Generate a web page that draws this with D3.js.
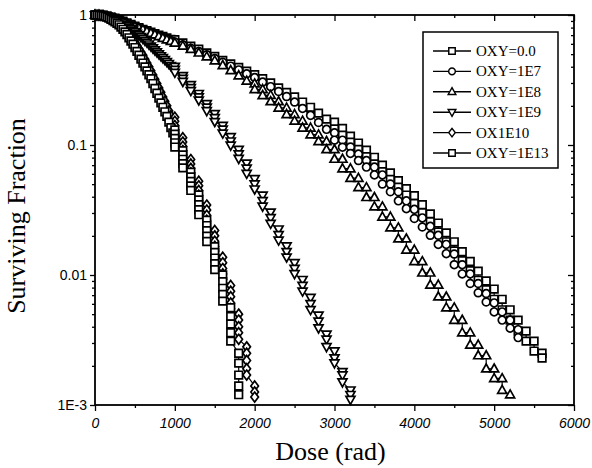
<!DOCTYPE html>
<html>
<head>
<meta charset="utf-8">
<script src="https://cdn.jsdelivr.net/npm/d3@7"></script>
<style>
  body { margin: 0; background: #fff; }
</style>
</head>
<body>
<script>
// dose ticks and survival ticks
var doseTicks = [0, 1000, 2000, 3000, 4000, 5000, 6000];
var doseMinor = [500, 1500, 2500, 3500, 4500, 5500];
var fracTicks = [1, 0.1, 0.01, 0.001];
var fracLabels = ["1", "0.1", "0.01", "1E-3"];

var seriesNames = ["OXY=0.0", "OXY=1E7", "OXY=1E8", "OXY=1E9", "OX1E10", "OXY=1E13"];
var seriesSymbols = ["square", "circle", "triangleUp", "triangleDown", "diamond", "square"];

// [dose (rad), surviving fraction]
var oxy0 = [
  [0,1],[50,0.998],[100,0.991],[150,0.979],[200,0.964],[250,0.944],[300,0.92],[350,0.895],[400,0.871],[450,0.845],
  [500,0.82],[550,0.798],[600,0.776],[650,0.757],[700,0.738],[750,0.719],[800,0.701],[850,0.684],[900,0.667],[950,0.65],
  [1000,0.645],[1100,0.61],[1200,0.575],[1300,0.545],[1400,0.51],[1500,0.48],[1600,0.447],[1700,0.42],[1800,0.395],[1900,0.37],
  [2000,0.347],[2100,0.324],[2200,0.3],[2300,0.275],[2400,0.254],[2500,0.234],[2600,0.214],[2700,0.195],[2800,0.176],[2900,0.158],
  [3000,0.15],[3000,0.133],[3100,0.134],[3100,0.119],[3200,0.117],[3200,0.105],[3300,0.1035],[3300,0.0923],[3400,0.0912],[3400,0.0813],
  [3500,0.0804],[3500,0.0716],[3600,0.07],[3600,0.0624],[3700,0.061],[3700,0.0543],[3800,0.0531],[3800,0.0473],[3900,0.0462],[3900,0.0412],
  [4000,0.0407],[4000,0.0355],[4100,0.0347],[4100,0.0302],[4200,0.0295],[4200,0.0257],[4300,0.0251],[4300,0.0214],[4400,0.0211],[4400,0.018],
  [4500,0.018],[4500,0.0153],[4600,0.0151],[4600,0.0129],[4700,0.0127],[4700,0.0108],[4800,0.0107],[4800,0.0091],[4900,0.009],[4900,0.0077],
  [5000,0.0078],[5000,0.0065],[5100,0.0065],[5100,0.0054],[5200,0.0054],[5200,0.0045],[5300,0.0045],[5300,0.0037],[5400,0.0037],[5400,0.0031],
  [5500,0.0031],[5500,0.0026],[5600,0.0025],[5600,0.0023]
];

var oxy1e7 = [
  [0,1],[50,0.998],[100,0.991],[150,0.979],[200,0.962],[250,0.94],[300,0.916],[350,0.891],[400,0.865],[450,0.839],
  [500,0.815],[550,0.792],[600,0.771],[650,0.75],[700,0.73],[750,0.71],[800,0.69],[850,0.672],[900,0.653],[950,0.635],
  [1000,0.62],[1100,0.59],[1200,0.555],[1300,0.525],[1400,0.495],[1500,0.463],[1600,0.433],[1700,0.404],[1800,0.378],[1900,0.353],
  [2000,0.33],[2100,0.305],[2200,0.281],[2300,0.258],[2400,0.236],[2500,0.214],[2600,0.191],[2700,0.169],[2800,0.149],[2900,0.132],
  [3000,0.124],[3000,0.109],[3100,0.109],[3100,0.0962],[3200,0.0966],[3200,0.0861],[3300,0.0851],[3300,0.0759],[3400,0.0759],[3400,0.0676],
  [3500,0.0676],[3500,0.0589],[3600,0.0589],[3600,0.0501],[3700,0.0501],[3700,0.0437],[3800,0.0437],[3800,0.0372],[3900,0.0372],[3900,0.0324],
  [4000,0.032],[4000,0.0272],[4100,0.0275],[4100,0.0234],[4200,0.0237],[4200,0.0202],[4300,0.0202],[4300,0.0172],[4400,0.0172],[4400,0.0146],
  [4500,0.0145],[4500,0.012],[4600,0.012],[4600,0.0102],[4700,0.0102],[4700,0.0086],[4800,0.0086],[4800,0.0073],[4900,0.0072],[4900,0.0062],
  [5000,0.0061],[5000,0.0052],[5100,0.0052],[5100,0.0045],[5200,0.0045],[5200,0.0039],[5300,0.0038],[5300,0.0033]
];

var oxy1e8 = [
  [0,1],[50,0.998],[100,0.991],[150,0.979],[200,0.962],[250,0.94],[300,0.916],[350,0.891],[400,0.865],[450,0.839],
  [500,0.815],[550,0.792],[600,0.771],[650,0.748],[700,0.726],[750,0.705],[800,0.684],[850,0.664],[900,0.646],[950,0.628],
  [1000,0.61],[1100,0.578],[1200,0.545],[1300,0.512],[1400,0.478],[1500,0.445],[1600,0.41],[1700,0.375],[1800,0.342],[1900,0.311],
  [2000,0.296],[2000,0.268],[2100,0.268],[2100,0.241],[2200,0.2415],[2200,0.216],[2300,0.216],[2300,0.193],[2400,0.193],[2400,0.172],
  [2500,0.172],[2500,0.153],[2600,0.153],[2600,0.1355],[2700,0.1355],[2700,0.12],[2800,0.12],[2800,0.1067],[2900,0.1067],[2900,0.0923],
  [3000,0.0923],[3000,0.078],[3100,0.078],[3100,0.0658],[3200,0.0658],[3200,0.0556],[3300,0.0556],[3300,0.0471],[3400,0.0471],[3400,0.0396],
  [3500,0.0396],[3500,0.0335],[3600,0.0335],[3600,0.028],[3700,0.028],[3700,0.0231],[3800,0.0231],[3800,0.019],[3900,0.019],[3900,0.0156],
  [4000,0.0156],[4000,0.0127],[4100,0.0127],[4100,0.0104],[4200,0.0104],[4200,0.0084],[4300,0.0084],[4300,0.0068],[4400,0.0068],[4400,0.0056],
  [4500,0.0056],[4500,0.0045],[4600,0.0045],[4600,0.0036],[4700,0.0036],[4700,0.0029],[4800,0.0029],[4800,0.0024],[4900,0.0024],[4900,0.0019],
  [5000,0.0019],[5000,0.0016],[5100,0.0016],[5100,0.0013],[5200,0.0012]
];

var oxy1e9 = [
  [0,1],[25,0.999],[50,0.998],[75,0.995],[100,0.991],[125,0.984],[150,0.977],[175,0.968],[200,0.959],[225,0.946],
  [250,0.933],[275,0.917],[300,0.902],[325,0.883],[350,0.865],[375,0.845],[400,0.826],[425,0.804],[450,0.783],[475,0.762],
  [500,0.741],[525,0.72],[550,0.7],[575,0.679],[600,0.658],[625,0.637],[650,0.617],[675,0.596],[700,0.575],[725,0.556],
  [750,0.537],[775,0.519],[800,0.501],[825,0.484],[850,0.468],[875,0.452],[900,0.437],[925,0.422],[950,0.407],[975,0.395],
  [1000,0.401],[1000,0.38],[1000,0.361],[1100,0.341],[1100,0.324],[1100,0.307],[1200,0.29],[1200,0.275],[1200,0.261],
  [1300,0.248],[1300,0.234],[1300,0.221],[1400,0.207],[1400,0.195],[1400,0.183],[1500,0.174],[1500,0.162],[1500,0.151],
  [1600,0.141],[1600,0.132],[1600,0.123],[1700,0.1156],[1700,0.107],[1700,0.0993],[1800,0.0923],[1800,0.0851],[1800,0.0785],
  [1900,0.0724],[1900,0.0661],[1900,0.0603],[2000,0.055],[2000,0.0501],[2000,0.0457],[2100,0.041],[2100,0.0372],[2100,0.0337],
  [2200,0.0304],[2200,0.0275],[2200,0.0249],[2300,0.0225],[2300,0.0204],[2300,0.0185],[2400,0.0167],[2400,0.0151],[2400,0.0137],
  [2500,0.0124],[2500,0.0112],[2500,0.0102],[2600,0.0092],[2600,0.0083],[2600,0.0075],[2700,0.0067],[2700,0.006],[2700,0.0054],
  [2800,0.0049],[2800,0.0044],[2800,0.0039],[2900,0.0035],[2900,0.0032],[2900,0.0028],[3000,0.0026],[3000,0.0023],[3000,0.0021],
  [3100,0.0018],[3100,0.0017],[3100,0.0015],[3200,0.0013],[3200,0.0012],[3200,0.0011]
];

var ox1e10 = [
  [0,1],[25,0.999],[50,0.998],[75,0.994],[100,0.989],[125,0.979],[150,0.968],[175,0.954],[200,0.94],[225,0.922],
  [250,0.904],[275,0.883],[300,0.861],[325,0.833],[350,0.804],[375,0.772],[400,0.741],[425,0.708],[450,0.676],[475,0.646],
  [500,0.617],[525,0.583],[550,0.55],[575,0.519],[600,0.49],[625,0.457],[650,0.427],[675,0.399],[700,0.372],[725,0.345],
  [750,0.32],[775,0.297],[800,0.275],[825,0.254],[850,0.234],[875,0.217],[900,0.2],[925,0.183],[950,0.168],[975,0.155],
  [1000,0.1637],[1000,0.152],[1000,0.141],[1000,0.131],[1000,0.122],
  [1100,0.1138],[1100,0.1054],[1100,0.0977],[1100,0.0906],[1100,0.0839],
  [1200,0.0773],[1200,0.0715],[1200,0.0661],[1200,0.0611],[1200,0.0565],
  [1300,0.0527],[1300,0.0485],[1300,0.0447],[1300,0.0411],[1300,0.0378],
  [1400,0.0345],[1400,0.0316],[1400,0.0288],[1400,0.0264],[1400,0.0241],
  [1500,0.022],[1500,0.02],[1500,0.0182],[1500,0.0166],[1500,0.0151],
  [1600,0.0137],[1600,0.0124],[1600,0.0112],[1600,0.0102],[1600,0.0092],
  [1700,0.0083],[1700,0.0075],[1700,0.0068],[1700,0.0061],[1700,0.0055],
  [1800,0.005],[1800,0.0045],[1800,0.004],[1800,0.0036],[1800,0.0032],
  [1900,0.0028],[1900,0.0025],[1900,0.0022],[1900,0.0019],[1900,0.0017],
  [2000,0.0014],[2000,0.00126],[2000,0.00115]
];

var oxy1e13 = [
  [0,1],[25,0.999],[50,0.998],[75,0.994],[100,0.989],[125,0.977],[150,0.964],[175,0.946],[200,0.927],[225,0.907],
  [250,0.887],[275,0.864],[300,0.841],[325,0.808],[350,0.776],[375,0.741],[400,0.708],[425,0.668],[450,0.631],[475,0.596],
  [500,0.562],[525,0.525],[550,0.49],[575,0.457],[600,0.427],[625,0.399],[650,0.372],[675,0.347],[700,0.324],[725,0.297],
  [750,0.272],[775,0.25],[800,0.229],[825,0.211],[850,0.195],[875,0.18],[900,0.166],[925,0.15],[950,0.136],[975,0.124],
  [1000,0.1306],[1000,0.121],[1000,0.1122],[1000,0.104],[1000,0.0964],
  [1100,0.0904],[1100,0.0838],[1100,0.0776],[1100,0.0719],[1100,0.0667],
  [1200,0.0617],[1200,0.0569],[1200,0.0525],[1200,0.0484],[1200,0.0447],
  [1300,0.0413],[1300,0.0378],[1300,0.0347],[1300,0.0318],[1300,0.0291],
  [1400,0.0264],[1400,0.024],[1400,0.0219],[1400,0.0199],[1400,0.0181],
  [1500,0.0165],[1500,0.0149],[1500,0.0135],[1500,0.0122],[1500,0.011],
  [1600,0.01],[1600,0.0089],[1600,0.0079],[1600,0.0071],[1600,0.0063],
  [1700,0.0056],[1700,0.0048],[1700,0.0042],[1700,0.0036],[1700,0.0031],
  [1800,0.0025],[1800,0.0021],[1800,0.0017],[1800,0.0014],[1800,0.0012]
];

var allSeries = [oxy0, oxy1e7, oxy1e8, oxy1e9, ox1e10, oxy1e13];

var svgW = 592, svgH = 468;
var plotL = 95, plotR = 574, plotT = 15, plotB = 405;

var svg = d3.select("body").append("svg").attr("width", svgW).attr("height", svgH);

var x = d3.scaleLinear().domain([0, 6000]).range([plotL, plotR]);
var y = d3.scaleLog().domain([0.001, 1]).range([plotB, plotT]);

var yMinor = [];
[0.001, 0.01, 0.1].forEach(function(dec){
  for (var k = 2; k <= 9; k++) yMinor.push(dec * k);
});

// marker shapes
function symbolPath(kind){
  if (kind == "square") return "M-3.8,-3.8H3.8V3.8H-3.8Z";
  if (kind == "circle") return "M3.9,0A3.9,3.9 0 1,1 -3.9,0A3.9,3.9 0 1,1 3.9,0Z";
  if (kind == "triangleUp") return "M0,-4.8L4.5,3.2L-4.5,3.2Z";
  if (kind == "triangleDown") return "M0,4.8L4.5,-3.2L-4.5,-3.2Z";
  if (kind == "diamond") return "M0,-5L3.8,0L0,5L-3.8,0Z";
}

var fontSans = "'Liberation Sans', Arial, sans-serif";
var fontSerif = "'Liberation Serif', 'Times New Roman', serif";

// bottom axis, ticks out
var gx = svg.append("g").attr("transform", "translate(0," + plotB + ")")
  .call(d3.axisBottom(x).tickValues(doseTicks).tickSize(6).tickSizeOuter(0).tickPadding(7).tickFormat(d3.format("d")));
gx.select(".domain").remove();
gx.selectAll("text").attr("font-family", fontSans).attr("font-size", 14).attr("font-style", "italic").attr("fill", "#000");
svg.append("g").attr("transform", "translate(0," + plotB + ")")
  .call(d3.axisBottom(x).tickValues(doseMinor).tickSize(3).tickFormat(""))
  .select(".domain").remove();

// top axis, ticks in
var gtop = svg.append("g").attr("transform", "translate(0," + plotT + ")")
  .call(d3.axisBottom(x).tickValues(doseTicks).tickSize(6).tickFormat(""));
gtop.select(".domain").remove();
svg.append("g").attr("transform", "translate(0," + plotT + ")")
  .call(d3.axisBottom(x).tickValues(doseMinor).tickSize(3).tickFormat(""))
  .select(".domain").remove();

// left axis, ticks out
var gy = svg.append("g").attr("transform", "translate(" + plotL + ",0)")
  .call(d3.axisLeft(y).tickValues(fracTicks).tickSize(5).tickPadding(3)
    .tickFormat(function(d, i){ return fracLabels[i]; }));
gy.select(".domain").remove();
gy.selectAll("text").attr("font-family", fontSans).attr("font-size", 14).attr("fill", "#000");
svg.append("g").attr("transform", "translate(" + plotL + ",0)")
  .call(d3.axisLeft(y).tickValues(yMinor).tickSize(3).tickFormat(""))
  .select(".domain").remove();

// right axis, ticks in
var gr = svg.append("g").attr("transform", "translate(" + plotR + ",0)")
  .call(d3.axisLeft(y).tickValues(fracTicks).tickSize(6).tickFormat(""));
gr.select(".domain").remove();
svg.append("g").attr("transform", "translate(" + plotR + ",0)")
  .call(d3.axisLeft(y).tickValues(yMinor).tickSize(3).tickFormat(""))
  .select(".domain").remove();

svg.selectAll(".tick line").attr("stroke", "#000").attr("stroke-width", 1.3);

// frame
svg.append("rect").attr("x", plotL).attr("y", plotT).attr("width", plotR - plotL).attr("height", plotB - plotT)
  .attr("fill", "none").attr("stroke", "#000").attr("stroke-width", 1.8);

// series
var line = d3.line().x(function(d){ return x(d[0]); }).y(function(d){ return y(d[1]); });
var plot = svg.append("g");

allSeries.forEach(function(data, i){
  plot.append("path").datum(data).attr("d", line)
    .attr("fill", "none").attr("stroke", "#000").attr("stroke-width", 1.2);
});
allSeries.forEach(function(data, i){
  plot.selectAll(".m" + i).data(data).enter().append("path")
    .attr("class", "m" + i)
    .attr("d", symbolPath(seriesSymbols[i]))
    .attr("transform", function(d){ return "translate(" + x(d[0]) + "," + y(d[1]) + ")"; })
    .attr("fill", "#fff").attr("stroke", "#000").attr("stroke-width", 1.7);
});

// legend
var lg = svg.append("g");
lg.append("rect").attr("x", 423).attr("y", 32).attr("width", 135).attr("height", 136)
  .attr("fill", "#fff").attr("stroke", "#000").attr("stroke-width", 1.5);
seriesNames.forEach(function(name, i){
  var yy = 51 + i * 20.4;
  lg.append("line").attr("x1", 433).attr("x2", 471).attr("y1", yy).attr("y2", yy)
    .attr("stroke", "#000").attr("stroke-width", 1.4);
  lg.append("path").attr("d", symbolPath(seriesSymbols[i]))
    .attr("transform", "translate(452," + yy + ") scale(0.85)")
    .attr("fill", "#fff").attr("stroke", "#000").attr("stroke-width", 1.7);
  lg.append("text").attr("x", 476).attr("y", yy + 5).text(name)
    .attr("font-family", fontSerif).attr("font-size", 15).attr("fill", "#000");
});

// axis titles
svg.append("text").attr("x", (plotL + plotR) / 2 - 4).attr("y", 460).attr("text-anchor", "middle")
  .attr("font-family", fontSerif).attr("font-size", 26).text("Dose (rad)");
svg.append("text").attr("transform", "translate(25," + ((plotT + plotB) / 2 + 6) + ") rotate(-90)")
  .attr("text-anchor", "middle").attr("font-family", fontSerif).attr("font-size", 26).text("Surviving Fraction");
</script>
</body>
</html>
